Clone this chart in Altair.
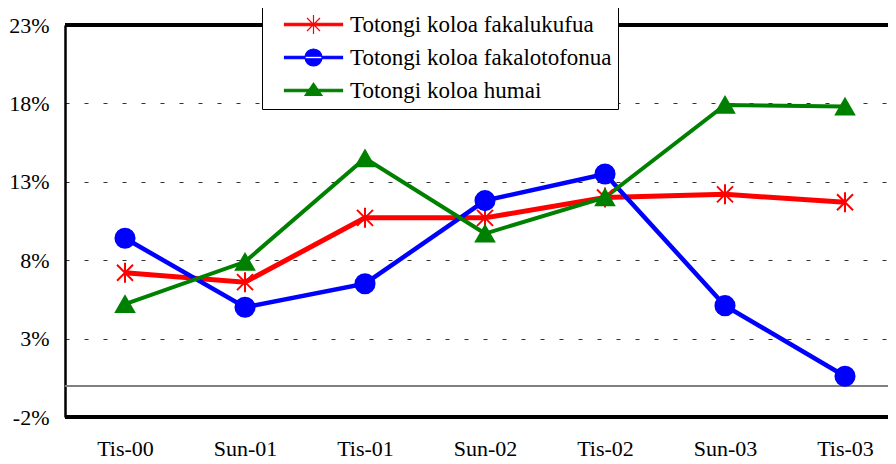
import altair as alt
import pandas as pd

cats = ["Tis-00", "Sun-01", "Tis-01", "Sun-02", "Tis-02", "Sun-03", "Tis-03"]
series = ["Totongi koloa fakalukufua", "Totongi koloa fakalotofonua", "Totongi koloa humai"]
colors = ["#FF0000", "#0000FF", "#008000"]
fakalukufua = [7.2, 6.6, 10.7, 10.7, 12.0, 12.2, 11.7]
fakalotofonua = [9.4, 5.0, 6.5, 11.8, 13.5, 5.1, 0.6]
humai = [5.2, 7.9, 14.5, 9.7, 12.0, 17.9, 17.8]
y_ticks = [-2, 3, 8, 13, 18, 23]

rows = []
for s, vals in zip(series, [fakalukufua, fakalotofonua, humai]):
    for c, v in zip(cats, vals):
        rows.append({"cat": c, "series": s, "value": v})
df = pd.DataFrame(rows)

FONT = "Liberation Serif"
ASTER = "M0,-1V1M-0.8,-0.8L0.8,0.8M-0.8,0.8L0.8,-0.8"

# legend symbols: line + marker (unit scale k = sqrt(100)/2 = 5 px)
LINE = "M-5.8,-0.25H5.8V0.25H-5.8Z"
LEG_RED = LINE + "M0,-1.9V1.9M-1.3,-1.3L1.3,1.3M-1.3,1.3L1.3,-1.3"
LEG_BLUE = LINE + "M-1.7,0A1.7,1.7 0 1,0 1.7,0A1.7,1.7 0 1,0 -1.7,0Z"
LEG_GREEN = LINE + "M0,-1.5L1.7,1.0L-1.7,1.0Z"

yscale = alt.Scale(domain=[-2, 23], nice=False, zero=False)

x = alt.X(
    "cat:N", sort=cats,
    scale=alt.Scale(domain=cats, range=[0, 840], padding=0.5),
    axis=alt.Axis(title=None, labelAngle=0, domain=False, ticks=False, grid=False,
                  labelPadding=21, labelFontSize=22, labelFont=FONT, labelColor="black"),
)
y = alt.Y(
    "value:Q",
    scale=yscale,
    axis=alt.Axis(title=None, values=y_ticks, labelExpr="datum.value + '%'", ticks=False,
                  domain=True, domainColor="black", domainWidth=2.5,
                  grid=True, gridDash=[4, 15], gridColor="#333333", gridWidth=1,
                  labelPadding=16, labelFontSize=22, labelFont=FONT, labelColor="black"),
)

cscale = alt.Scale(domain=series, range=colors)
base = alt.Chart(df)

lines = base.mark_line().encode(
    x=x, y=y,
    color=alt.Color("series:N", scale=cscale, legend=None),
    strokeWidth=alt.StrokeWidth("series:N", scale=alt.Scale(domain=series, range=[5, 4, 4]), legend=None),
)

points = base.mark_point(filled=True, opacity=1, strokeWidth=2).encode(
    x=x, y=y,
    color=alt.Color("series:N", scale=cscale, legend=None),
    stroke=alt.Stroke("series:N", scale=cscale, legend=None),
    shape=alt.Shape("series:N", scale=alt.Scale(domain=series, range=[ASTER, "circle", "triangle-up"]), legend=None),
    size=alt.Size("series:N", scale=alt.Scale(domain=series, range=[400, 330, 300]), legend=None),
)

border_top = base.mark_rule(color="black", strokeWidth=2.5).encode(y=alt.datum(23))
border_bottom = base.mark_rule(color="black", strokeWidth=2.5).encode(y=alt.datum(-2))
zero = base.mark_rule(color="#808080", strokeWidth=1.5).encode(y=alt.datum(0))

legend_layer = base.transform_calculate(s2="datum.series").transform_filter("false").mark_point(
    filled=True, opacity=1, size=100, strokeWidth=1.2
).encode(
    x=x, y=y,
    color=alt.Color("s2:N", scale=cscale, title=None,
                    legend=alt.Legend(orient="none", legendX=197, legendY=-18, title=None,
                                      labelFont=FONT, labelFontSize=23, labelColor="black",
                                      labelExpr="datum.label + '\u2003\u2002'",
                                      strokeColor="black", fillColor="white", padding=6,
                                      symbolSize=100, symbolStrokeWidth=1.2, labelOffset=25,
                                      symbolOffset=34, rowPadding=9, labelLimit=500)),
    stroke=alt.Stroke("s2:N", scale=cscale, title=None),
    shape=alt.Shape("s2:N", scale=alt.Scale(domain=series, range=[LEG_RED, LEG_BLUE, LEG_GREEN]), title=None),
)

chart = alt.layer(zero, lines, points, border_top, border_bottom, legend_layer).resolve_scale(
    color="independent", shape="independent", stroke="independent", size="independent",
    strokeWidth="independent"
).properties(
    width=823, height=392,
    autosize=alt.AutoSizeParams(type="none"),
    padding={"left": 57, "top": 17, "right": 0, "bottom": 45},
).configure_view(stroke=None).configure_legend(
    labelFont=FONT, labelFontSize=23
).configure_axis(labelFont=FONT)

chart.save("out.html", embed_options={"renderer": "svg", "actions": False})
